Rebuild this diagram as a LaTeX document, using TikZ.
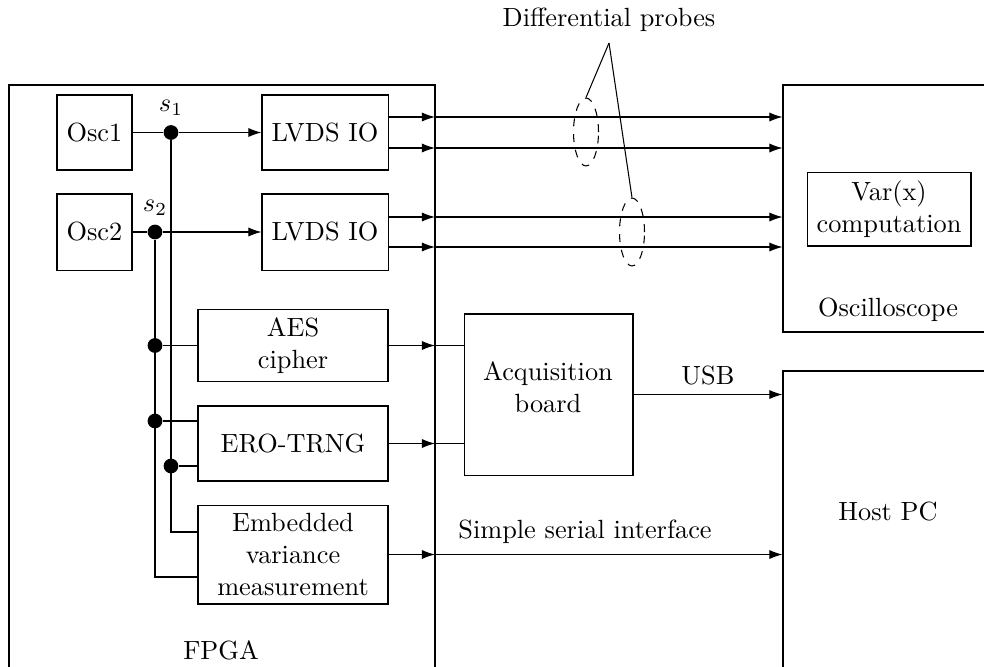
\documentclass[tikz,border=0pt]{standalone}
\usetikzlibrary{shapes.geometric,fit,arrows.meta}
\begin{document}
\begin{tikzpicture}[x=0.38pt,y=-0.38pt,
  frame/.style={draw, inner sep=0pt},
  box/.style={draw, inner sep=0pt, align=center},
  arr/.style={-{Latex[length=5pt,width=3.5pt]}},
  dot/.style={circle, fill, inner sep=0pt, minimum size=5.6pt},
  probe/.style={ellipse, draw, dashed, inner sep=0pt, minimum width=9.5pt, minimum height=25.8pt}]
\useasboundingbox (0,0) rectangle (984,666);
\clip (0,0) rectangle (984,666);

% outer boxes
\node[frame, fit={(9,85) (435,720)}] (fpga) {};
\node (fpgalbl) at (221,650) {FPGA};
\node[frame, fit={(783,85) (1010,332)}] (scope) {};
\node (scopelbl) at (888,310) {Oscilloscope};
\node[box, minimum width=62.3pt, minimum height=28.1pt] (varx) at (889,209) {Var(x)\\computation};
\node[frame, fit={(783,371) (1010,720)}] (host) {};
\node (hostlbl) at (888,512) {Host PC};

% inner boxes
\node[box, minimum width=28.5pt, minimum height=28.5pt] (osc1) at (94.5,132.5) {Osc1};
\node[box, minimum width=28.5pt, minimum height=28.9pt] (osc2) at (94.5,232) {Osc2};
\node[box, minimum width=47.9pt, minimum height=28.5pt] (lvds1) at (325,132.5) {LVDS IO};
\node[box, minimum width=47.9pt, minimum height=28.9pt] (lvds2) at (325,232) {LVDS IO};
\node[box, minimum width=72.2pt, minimum height=27.7pt] (aes) at (293,345.5) {AES\\cipher};
\node[box, minimum width=72.2pt, minimum height=28.5pt] (ero) at (293,443.5) {ERO-TRNG};
\node[box, minimum width=72.2pt, minimum height=37.6pt] (emb) at (293,554.5) {Embedded\\variance\\measurement};
\node[frame, minimum width=64.2pt, minimum height=61.2pt] (acq) at (548.5,394.5) {};
\node[align=center] (acqlbl) at (548,387) {Acquisition\\board};

% split points
\node[dot] (s1) at (171,132.5) {};
\node[dot] (s2) at (155,232) {};
\node (s1lbl) at (171,108) {$s_1$};
\node (s2lbl) at (155,208) {$s_2$};
\node[dot] (d1) at (155,345.5) {};
\node[dot] (d2) at (155,421) {};
\node[dot] (d3) at (171,466) {};
\coordinate (e1) at (198,532);
\coordinate (e2) at (198,577);

\draw (osc1) -- (s1);
\draw[arr] (s1) -- (lvds1);
\draw (osc2) -- (s2);
\draw[arr] (s2) -- (lvds2);
\draw (s1) |- (e1);
\draw (s2) |- (e2);
\draw (d1) -- (aes);
\draw (d2) -- (d2 -| ero.west);
\draw (d3) -- (d3 -| ero.west);

% boundary points on FPGA edge
\coordinate (b1) at (435,117);
\coordinate (b2) at (435,148);
\coordinate (b3) at (435,217);
\coordinate (b4) at (435,247);
\coordinate (b5) at (435,345.5);
\coordinate (b6) at (435,443.5);
\coordinate (b7) at (435,554.5);

\draw[arr] (lvds1.east |- b1) -- (b1);
\draw[arr] (lvds1.east |- b2) -- (b2);
\draw[arr] (lvds2.east |- b3) -- (b3);
\draw[arr] (lvds2.east |- b4) -- (b4);
\draw[arr] (b1) -- (scope.west |- b1);
\draw[arr] (b2) -- (scope.west |- b2);
\draw[arr] (b3) -- (scope.west |- b3);
\draw[arr] (b4) -- (scope.west |- b4);

\draw[arr] (aes) -- (b5);
\draw (b5) -- (acq.west |- b5);
\draw[arr] (ero) -- (b6);
\draw (b6) -- (acq.west |- b6);
\draw[arr] (emb) -- (b7);
\draw[arr] (b7) -- (host.west |- b7);
\node (seriallbl) at (585,532) {Simple serial interface};

\draw[arr] (acq) -- (host.west |- acq) node[midway, above] (usblbl) {USB};

% probes
\node[probe] (p1) at (586,132) {};
\node[probe] (p2) at (632,232) {};
\node (probelbl) at (609,20) {Differential probes};
\coordinate (apex) at (609,43);
\draw (apex) -- (p1.north);
\draw (apex) -- (p2.north);
\end{tikzpicture}
\end{document}
